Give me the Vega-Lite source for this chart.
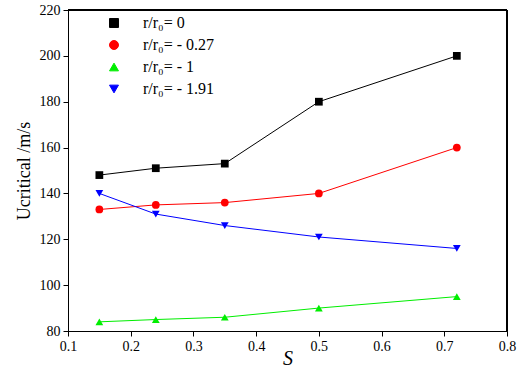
{
  "$schema": "https://vega.github.io/schema/vega-lite/v6.json",
  "width": 439,
  "height": 321,
  "autosize": {"type": "none"},
  "padding": {"left": 68, "top": 10, "right": 20, "bottom": 38},
  "background": "white",
  "config": {
    "view": {"stroke": "#000000", "strokeWidth": 1},
    "font": "Liberation Serif",
    "axis": {"grid": false, "domainColor": "black", "tickColor": "black", "labelColor": "black", "titleColor": "black", "labelFont": "Liberation Serif", "titleFont": "Liberation Serif", "labelFontSize": 14, "labelFlush": false}
  },
  "data": {"values": [
    {"S": 0.15, "U": 148, "series": "r/r₀= 0"},
    {"S": 0.24, "U": 151, "series": "r/r₀= 0"},
    {"S": 0.35, "U": 153, "series": "r/r₀= 0"},
    {"S": 0.5, "U": 180, "series": "r/r₀= 0"},
    {"S": 0.72, "U": 200, "series": "r/r₀= 0"},
    {"S": 0.15, "U": 133, "series": "r/r₀= - 0.27"},
    {"S": 0.24, "U": 135, "series": "r/r₀= - 0.27"},
    {"S": 0.35, "U": 136, "series": "r/r₀= - 0.27"},
    {"S": 0.5, "U": 140, "series": "r/r₀= - 0.27"},
    {"S": 0.72, "U": 160, "series": "r/r₀= - 0.27"},
    {"S": 0.15, "U": 84, "series": "r/r₀= - 1"},
    {"S": 0.24, "U": 85, "series": "r/r₀= - 1"},
    {"S": 0.35, "U": 86, "series": "r/r₀= - 1"},
    {"S": 0.5, "U": 90, "series": "r/r₀= - 1"},
    {"S": 0.72, "U": 95, "series": "r/r₀= - 1"},
    {"S": 0.15, "U": 140, "series": "r/r₀= - 1.91"},
    {"S": 0.24, "U": 131, "series": "r/r₀= - 1.91"},
    {"S": 0.35, "U": 126, "series": "r/r₀= - 1.91"},
    {"S": 0.5, "U": 121, "series": "r/r₀= - 1.91"},
    {"S": 0.72, "U": 116, "series": "r/r₀= - 1.91"}
  ]},
  "layer": [
    {
      "mark": {"type": "line", "strokeWidth": 1},
      "encoding": {
        "x": {"field": "S", "type": "quantitative", "scale": {"domain": [0.1, 0.8], "nice": false},
          "axis": {"orient": "bottom", "title": "S", "titleFontStyle": "italic", "titleFontSize": 20, "titleFontWeight": "normal", "titlePadding": -5,
            "values": [0.1,0.15,0.2,0.25,0.3,0.35,0.4,0.45,0.5,0.55,0.6,0.65,0.7,0.75,0.8],
            "labelExpr": "round(datum.value*100)%10==0 ? format(datum.value,'.1f') : ''",
            "tickSize": {"condition": {"test": "round(datum.value*100)%10==0", "value": 5}, "value": 3}, "labelPadding": 3}},
        "y": {"field": "U", "type": "quantitative", "scale": {"domain": [80, 220], "nice": false, "zero": false},
          "axis": {"orient": "left", "title": "Ucritical /m/s", "titleFontSize": 18, "titleFontWeight": "normal", "titlePadding": 6,
            "values": [80,90,100,110,120,130,140,150,160,170,180,190,200,210,220],
            "labelExpr": "datum.value%20==0 ? datum.value : ''",
            "tickSize": {"condition": {"test": "datum.value%20==0", "value": 5}, "value": 3}, "labelPadding": 3}},
        "color": {"field": "series", "type": "nominal", "sort": null,
          "scale": {"domain": ["r/r₀= 0", "r/r₀= - 0.27", "r/r₀= - 1", "r/r₀= - 1.91"], "range": ["#000000", "#ff0000", "#00ee00", "#0000ff"]},
          "legend": {"orient": "none", "legendX": 38, "legendY": 5, "padding": 0, "title": null, "labelFont": "Liberation Serif", "labelFontSize": 16, "labelColor": "black", "rowPadding": 6, "symbolSize": 80, "symbolStrokeWidth": 1, "symbolOpacity": 1, "labelOffset": 21}}
      }
    },
    {
      "mark": {"type": "point", "filled": true, "size": 60, "opacity": 1},
      "encoding": {
        "x": {"field": "S", "type": "quantitative"},
        "y": {"field": "U", "type": "quantitative"},
        "color": {"field": "series", "type": "nominal", "sort": null},
        "shape": {"field": "series", "type": "nominal", "sort": null,
          "scale": {"domain": ["r/r₀= 0", "r/r₀= - 0.27", "r/r₀= - 1", "r/r₀= - 1.91"], "range": ["square", "circle", "triangle-up", "triangle-down"]},
          "legend": {"orient": "none", "legendX": 38, "legendY": 5, "padding": 0, "title": null, "labelFont": "Liberation Serif", "labelFontSize": 16, "labelColor": "black", "rowPadding": 6, "symbolSize": 80, "symbolStrokeWidth": 1, "symbolOpacity": 1, "labelOffset": 21}}
      }
    },
    {
      "mark": {"type": "rule", "color": "#000000", "strokeWidth": 1.2, "opacity": 1},
      "encoding": {"y": {"datum": 219.8, "type": "quantitative"}}
    },
    {
      "mark": {"type": "rule", "color": "#000000", "strokeWidth": 1.2, "opacity": 1},
      "encoding": {"x": {"datum": 0.7995, "type": "quantitative"}}
    }
  ]
}
